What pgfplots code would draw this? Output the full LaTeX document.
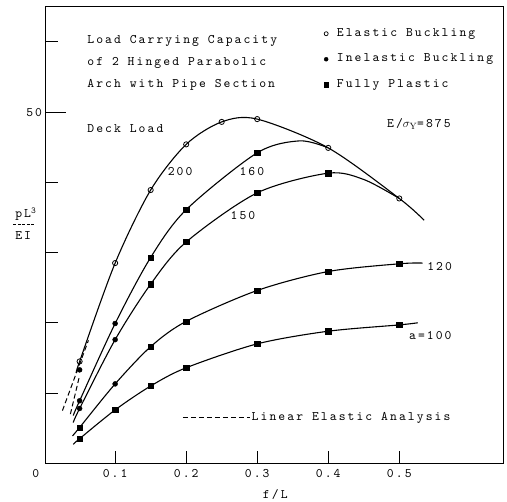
\documentclass[border=0pt]{standalone}
\usepackage{fontspec}
\usepackage{pgfplots}
\pgfplotsset{compat=1.18}
\newfontfamily\twf{lmmono10-regular}[Extension=.otf,LetterSpace=16]
\newcommand\tw{\twf\fontsize{13bp}{15bp}\selectfont}
\begin{document}
\begin{tikzpicture}
\begin{axis}[
  scale only axis, width=457.2bp, height=457bp,
  xmin=0.002, xmax=0.646, ymin=0, ymax=65.1,
  axis line style={line width=0.9bp},
  xtick={0.1,0.2,0.3,0.4,0.5}, xticklabels={0.1,0.2,0.3,0.4,0.5},
  ytick={10,20,30,40,60}, yticklabels={},
  extra y ticks={50}, extra y tick labels={50},
  extra y tick style={major tick length=20bp},
  xtick pos=left, ytick pos=left,
  tick align=inside, major tick length=12bp,
  tick style={line width=0.9bp, black},
  ticklabel style={font=\tw},
  xticklabel style={anchor=base, yshift=-14.5bp},
  /pgf/number format/assume math mode=true,
  clip=false,
  legend cell align=left,
  legend image code/.code={\draw[#1] plot coordinates {(0bp,0bp)};},
  legend style={draw=none, fill=none, font=\tw, inner sep=0pt,
    at={(axis cs:0.3937,62.0)}, anchor=north west,
    row sep=14bp, column sep=8bp,
    nodes={inner sep=0.5bp, text height=8bp, text depth=2.5bp}},
]
\coordinate (BL) at (rel axis cs:0,0);
\coordinate (TR) at (rel axis cs:1,1);

% curves
\addplot[forget plot, smooth, line width=1.1bp] coordinates {
 (0.046,13.0) (0.05,14.5) (0.1,28.5) (0.15,38.9) (0.2,45.4) (0.25,48.6) (0.3,49.0) (0.4,44.9) (0.5,37.7) (0.535,34.6)};
\addplot[forget plot, smooth, line width=1.1bp] coordinates {
 (0.041,6.8) (0.05,8.9) (0.1,19.9) (0.15,29.3) (0.2,36.1) (0.3,44.2) (0.36,45.9) (0.4,44.9)};
\addplot[forget plot, smooth, line width=1.1bp] coordinates {
 (0.041,5.8) (0.05,7.8) (0.1,17.6) (0.15,25.5) (0.2,31.5) (0.3,38.5) (0.4,41.3) (0.45,40.4) (0.5,37.7)};
\addplot[forget plot, smooth, line width=1.1bp] coordinates {
 (0.040,3.9) (0.05,5.1) (0.1,11.3) (0.15,16.6) (0.2,20.2) (0.3,24.6) (0.4,27.3) (0.5,28.4) (0.533,28.5)};
\addplot[forget plot, smooth, line width=1.1bp] coordinates {
 (0.041,2.7) (0.05,3.5) (0.1,7.6) (0.15,11.0) (0.2,13.6) (0.3,17.0) (0.4,18.8) (0.5,19.7) (0.526,20.0)};
% linear elastic (dashed)
\addplot[forget plot, line width=1bp, dash pattern=on 5bp off 3bp] coordinates {(0.0258,7.5) (0.0624,17.5)};
\addplot[forget plot, line width=1bp, dash pattern=on 5bp off 3bp] coordinates {(0.037,7.0) (0.05,12.5)};
\addplot[forget plot, line width=1bp, dash pattern=on 5bp off 3bp] coordinates {(0.1954,6.53) (0.2904,6.53)};

% marks
\addplot[forget plot, only marks, mark=square*, mark size=2.6bp] coordinates {
 (0.15,29.3) (0.2,36.1) (0.3,44.2)
 (0.15,25.5) (0.2,31.5) (0.3,38.5) (0.4,41.3)
 (0.05,5.1) (0.15,16.6) (0.2,20.2) (0.3,24.6) (0.4,27.3) (0.5,28.4)
 (0.05,3.5) (0.1,7.6) (0.15,11.0) (0.2,13.6) (0.3,17.0) (0.4,18.8) (0.5,19.7)};
\addplot[forget plot, only marks, mark=*, mark size=2.5bp] coordinates {
 (0.05,13.3) (0.05,8.9) (0.1,19.9) (0.05,7.8) (0.1,17.6) (0.1,11.3)};
\addplot[forget plot, only marks, mark=o, mark size=2.6bp, mark options={fill=white, line width=0.8bp}] coordinates {
 (0.05,14.5) (0.1,28.5) (0.15,38.9) (0.2,45.4) (0.25,48.6) (0.3,49.0) (0.4,44.9) (0.5,37.7)};

% legend
\addlegendimage{only marks, mark=o, mark size=2bp, mark options={line width=0.7bp}}
\addlegendentry{Elastic Buckling}
\addlegendimage{only marks, mark=*, mark size=2bp}
\addlegendentry{Inelastic Buckling}
\addlegendimage{only marks, mark=square*, mark size=2.2bp}
\addlegendentry{Fully Plastic}

% texts
\node[anchor=base west, inner sep=0, font=\tw] at (axis cs:0.0606,59.73) {Load Carrying Capacity};
\node[anchor=base west, inner sep=0, font=\tw] at (axis cs:0.0606,56.59) {of 2 Hinged Parabolic};
\node[anchor=base west, inner sep=0, font=\tw] at (axis cs:0.0606,53.46) {Arch with Pipe Section};
\node[anchor=base west, inner sep=0, font=\tw] at (axis cs:0.0606,47.04) {Deck Load};
\node[anchor=base west, inner sep=0, font=\tw] at (axis cs:0.4827,47.85) {E/$\sigma_{\mathrm{Y}}$=875};
\node[anchor=base, inner sep=0, font=\tw] at (axis cs:0.1915,40.91) {200};
\node[anchor=base, inner sep=0, font=\tw] at (axis cs:0.2925,40.96) {160};
\node[anchor=base, inner sep=0, font=\tw] at (axis cs:0.2799,34.64) {150};
\node[anchor=base, inner sep=0, font=\tw] at (axis cs:0.5568,27.41) {120};
\node[anchor=base, inner sep=0, font=\tw] at (axis cs:0.5437,17.68) {a=100};
\node[anchor=base west, inner sep=0, font=\tw] at (axis cs:0.292,6.03) {Linear Elastic Analysis};
\node[anchor=base, inner sep=0, font=\tw] at (axis cs:0.3254,-4.95) {f/L};
\node[anchor=base, inner sep=0, font=\tw] at (axis cs:-0.0117,-2.0) {0};
\node[anchor=base west, inner sep=0, font=\tw] at (axis cs:-0.0408,35.0) {pL\textsuperscript{3}};
\node[anchor=base west, inner sep=0, font=\tw] at (axis cs:-0.0408,31.9) {EI};
\draw[line width=0.6bp, dash pattern=on 3bp off 1.5bp] (axis cs:-0.0432,34.0) -- (axis cs:-0.0127,34.0);
\end{axis}
\pgfresetboundingbox
\path ([shift={(-45.5bp,-38bp)}]BL) rectangle ([shift={(4bp,6bp)}]TR);
\end{tikzpicture}
\end{document}
